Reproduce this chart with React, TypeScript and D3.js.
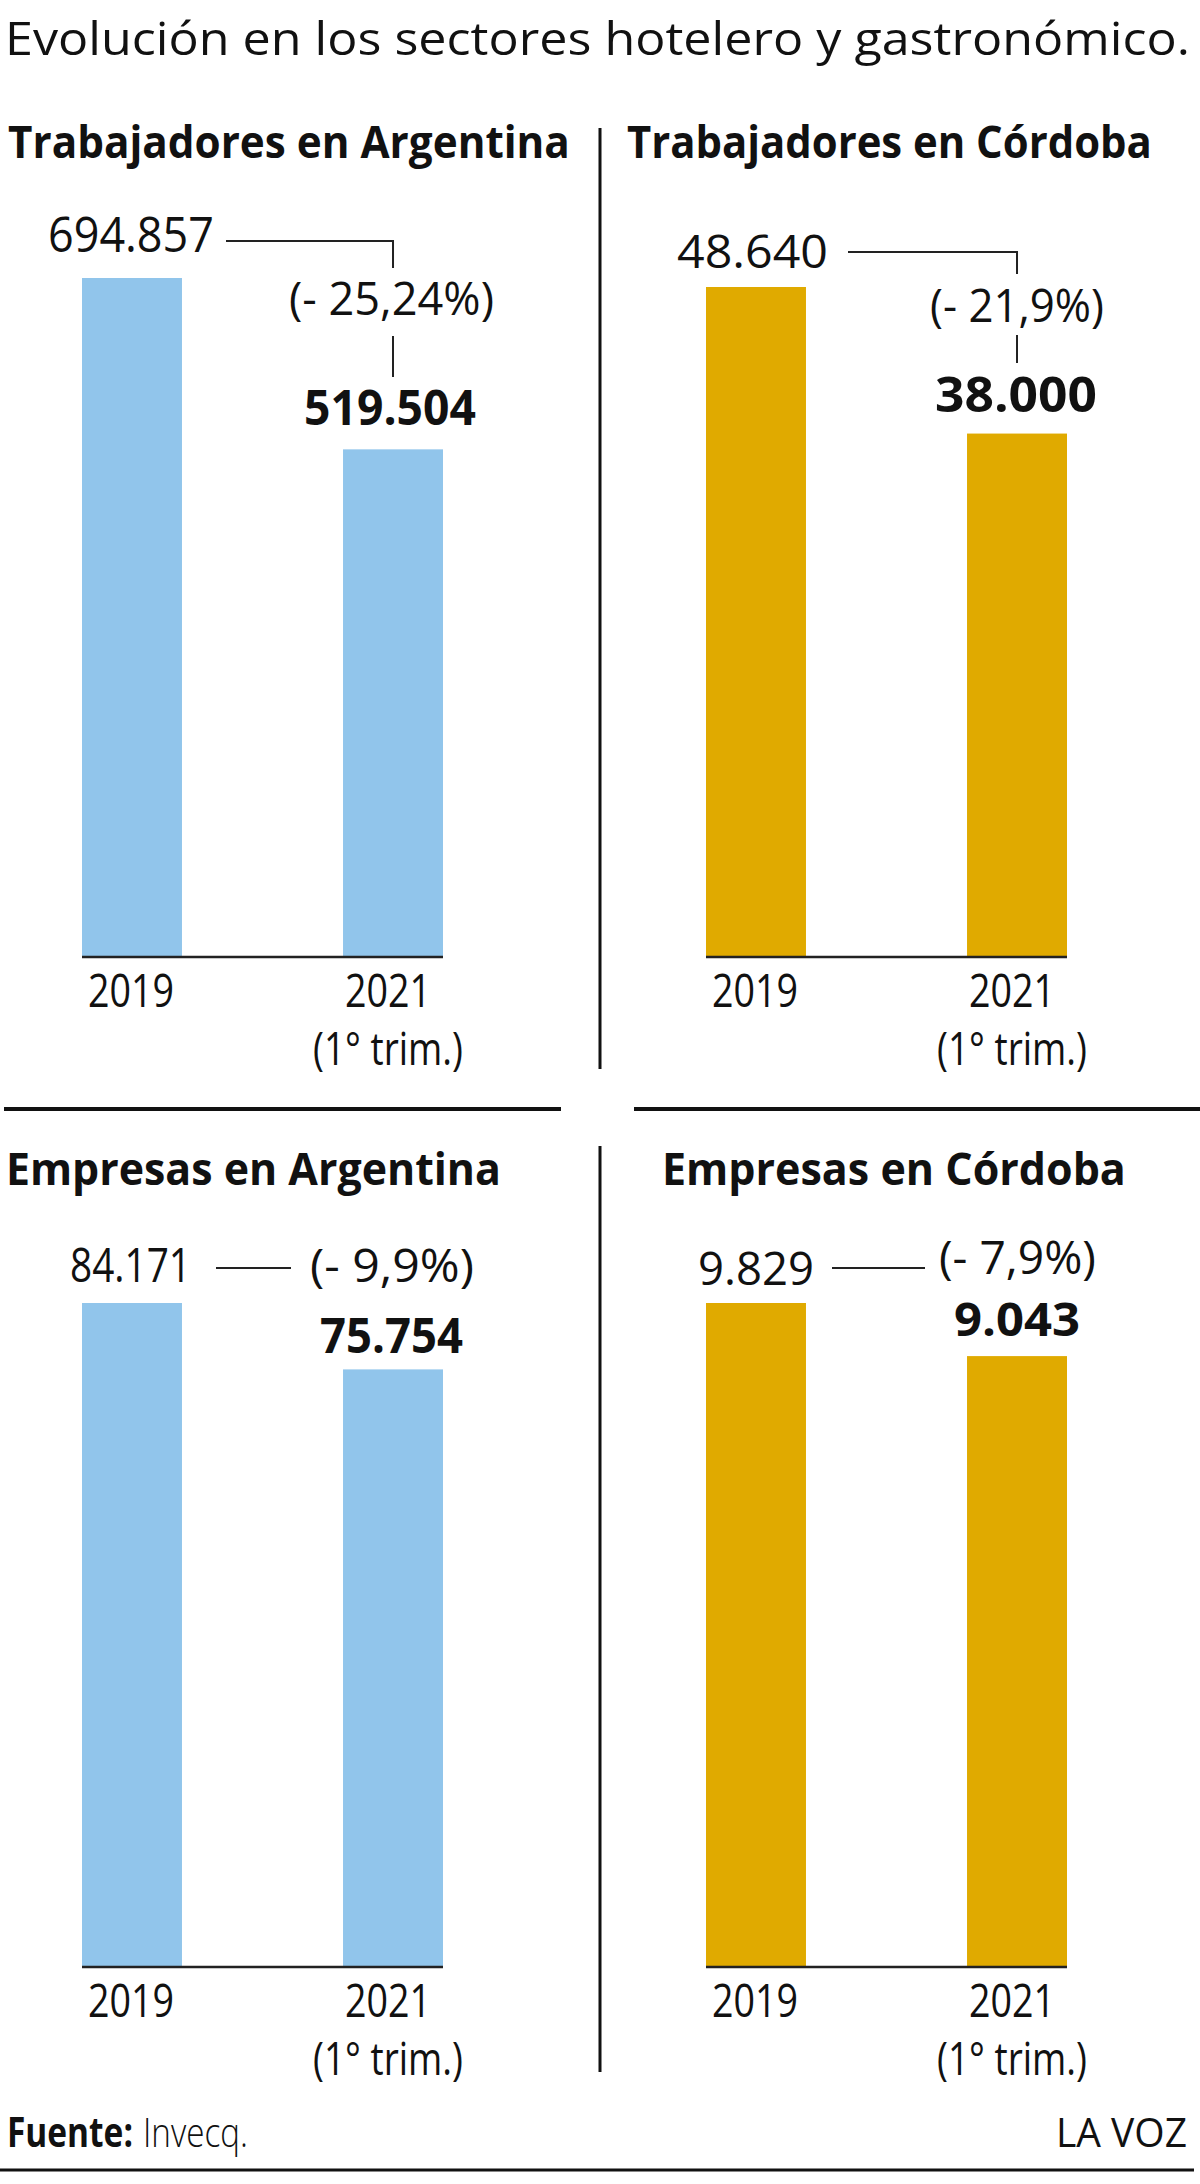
import * as d3 from 'd3'
import React, { useLayoutEffect, useRef } from 'react'

// Datos
const years = ['2019', '2021']
const yearNotes = ['', '(1° trim.)']
const trabajadoresArgentina = [694857, 519504]
const trabajadoresCordoba = [48640, 38000]
const empresasArgentina = [84171, 75754]
const empresasCordoba = [9829, 9043]
const variaciones = ['(- 25,24%)', '(- 21,9%)', '(- 9,9%)', '(- 7,9%)']
const subtitulos = [
  'Trabajadores en Argentina',
  'Trabajadores en Córdoba',
  'Empresas en Argentina',
  'Empresas en Córdoba'
]

const BLUE = '#91c5eb'
const GOLD = '#e0aa00'
const INK = '#111'
const FONT = '"Open Sans", "Noto Sans", sans-serif'

const fmt = d3
  .formatLocale({ decimal: ',', thousands: '.', grouping: [3], currency: ['$', ''] })
  .format(',d')

// posición de cada panel: desplazamiento x, línea base, altura del valor máximo
const panels = [
  { values: trabajadoresArgentina, color: BLUE, ox: 0, base: 957, h: 679 },
  { values: trabajadoresCordoba, color: GOLD, ox: 624, base: 957, h: 670 },
  { values: empresasArgentina, color: BLUE, ox: 0, base: 1967, h: 664 },
  { values: empresasCordoba, color: GOLD, ox: 624, base: 1967, h: 664 }
]

// ubicación de las anotaciones (texto) de cada panel
const annots = [
  {
    sub: { x: 8, y: 158, w: 562 },
    v1: { x: 48, y: 252, w: 166, fs: 49 },
    link1: { x: 226, y: 241, down: 268 },
    pct: { x: 289, y: 315, w: 205, fs: 46 },
    link2: { y1: 336, y2: 377 },
    v2: { x: 304, y: 425, w: 172, fs: 49 }
  },
  {
    sub: { x: 627, y: 158, w: 525 },
    v1: { x: 677, y: 268, w: 151, fs: 46 },
    link1: { x: 848, y: 252, down: 274 },
    pct: { x: 930, y: 322, w: 174, fs: 45 },
    link2: { y1: 335, y2: 363 },
    v2: { x: 935, y: 412, w: 162, fs: 49 }
  },
  {
    sub: { x: 6, y: 1185, w: 495 },
    v1: { x: 70, y: 1282, w: 121, fs: 47 },
    link1: { x: 216, y: 1268, x2: 291 },
    pct: { x: 310, y: 1282, w: 164, fs: 46 },
    v2: { x: 320, y: 1353, w: 143, fs: 49 }
  },
  {
    sub: { x: 662, y: 1185, w: 464 },
    v1: { x: 698, y: 1285, w: 116, fs: 46 },
    link1: { x: 832, y: 1268, x2: 925 },
    pct: { x: 939, y: 1274, w: 157, fs: 45 },
    v2: { x: 954, y: 1336, w: 126, fs: 46 }
  }
]

// texto condensado: se mide y se escala en x hasta el ancho pedido
const T = ({ x, y, w, fs, weight = 400, children }: any) => {
  const ref = useRef<SVGTextElement>(null)
  useLayoutEffect(() => {
    const el = ref.current
    if (!el) return
    const len = el.getComputedTextLength()
    const sx = len > 0 ? w / len : 1
    el.setAttribute('transform', `translate(${x},${y}) scale(${sx},1)`)
  }, [x, y, w, fs, weight, children])
  return (
    <text
      ref={ref}
      transform={`translate(${x},${y})`}
      fontSize={fs}
      fontWeight={weight}
      fontFamily={FONT}
      fill={INK}
    >
      {children}
    </text>
  )
}

const Panel = ({ i }: { i: number }) => {
  const p = panels[i]
  const a: any = annots[i]
  const x = d3
    .scaleBand()
    .domain(years)
    .range([82 + p.ox, 443 + p.ox])
    .paddingInner(0.617)
  const y = d3
    .scaleLinear()
    .domain([0, d3.max(p.values) as number])
    .range([p.base, p.base - p.h])
  const bw = x.bandwidth()
  const cx2 = (x(years[1]) as number) + bw / 2

  return (
    <g>
      <T x={a.sub.x} y={a.sub.y} w={a.sub.w} fs={44} weight={700}>
        {subtitulos[i]}
      </T>
      {p.values.map((v, j) => (
        <rect
          key={j}
          x={x(years[j])}
          y={y(v)}
          width={bw}
          height={p.base - y(v)}
          fill={p.color}
        />
      ))}
      <line
        x1={x(years[0])}
        x2={(x(years[1]) as number) + bw}
        y1={p.base}
        y2={p.base}
        stroke="#222"
        strokeWidth={2.5}
      />
      {years.map((yr, j) => {
        const c = (x(yr) as number) + bw / 2 - (j === 1 ? 5 : 1)
        return (
          <g key={yr}>
            <T x={c - 43} y={p.base + 50} w={86} fs={45}>
              {yr}
            </T>
            {yearNotes[j] && (
              <T x={c - 75} y={p.base + 108} w={150} fs={45}>
                {yearNotes[j]}
              </T>
            )}
          </g>
        )
      })}
      <T x={a.v1.x} y={a.v1.y} w={a.v1.w} fs={a.v1.fs}>
        {fmt(p.values[0])}
      </T>
      <path
        d={
          a.link1.x2
            ? `M${a.link1.x},${a.link1.y}H${a.link1.x2}`
            : `M${a.link1.x},${a.link1.y}H${cx2}V${a.link1.down}`
        }
        fill="none"
        stroke="#222"
        strokeWidth={2}
      />
      <T x={a.pct.x} y={a.pct.y} w={a.pct.w} fs={a.pct.fs}>
        {variaciones[i]}
      </T>
      {a.link2 && (
        <line x1={cx2} x2={cx2} y1={a.link2.y1} y2={a.link2.y2} stroke="#222" strokeWidth={2} />
      )}
      <T x={a.v2.x} y={a.v2.y} w={a.v2.w} fs={a.v2.fs} weight={700}>
        {fmt(p.values[1])}
      </T>
    </g>
  )
}

export default function App() {
  return (
    <svg
      width={1200}
      height={2184}
      style={{ position: 'absolute', left: 0, top: 0, background: '#fff' }}
    >
      <rect width={1200} height={2184} fill="#fff" />
      <T x={5} y={55} w={1185} fs={46} weight={500}>
        Evolución en los sectores hotelero y gastronómico.
      </T>
      {panels.map((_, i) => (
        <Panel key={i} i={i} />
      ))}
      {/* separadores */}
      <line x1={600} x2={600} y1={128} y2={1069} stroke={INK} strokeWidth={3} />
      <line x1={600} x2={600} y1={1146} y2={2072} stroke={INK} strokeWidth={3} />
      <line x1={4} x2={561} y1={1109} y2={1109} stroke={INK} strokeWidth={4} />
      <line x1={634} x2={1200} y1={1109} y2={1109} stroke={INK} strokeWidth={4} />
      <line x1={0} x2={1194} y1={2170} y2={2170} stroke={INK} strokeWidth={3} />
      <T x={7} y={2147} w={126} fs={41} weight={700}>
        Fuente:
      </T>
      <T x={143} y={2147} w={105} fs={41} weight={300}>
        Invecq.
      </T>
      <T x={1056} y={2147} w={131} fs={41}>
        LA VOZ
      </T>
    </svg>
  )
}
